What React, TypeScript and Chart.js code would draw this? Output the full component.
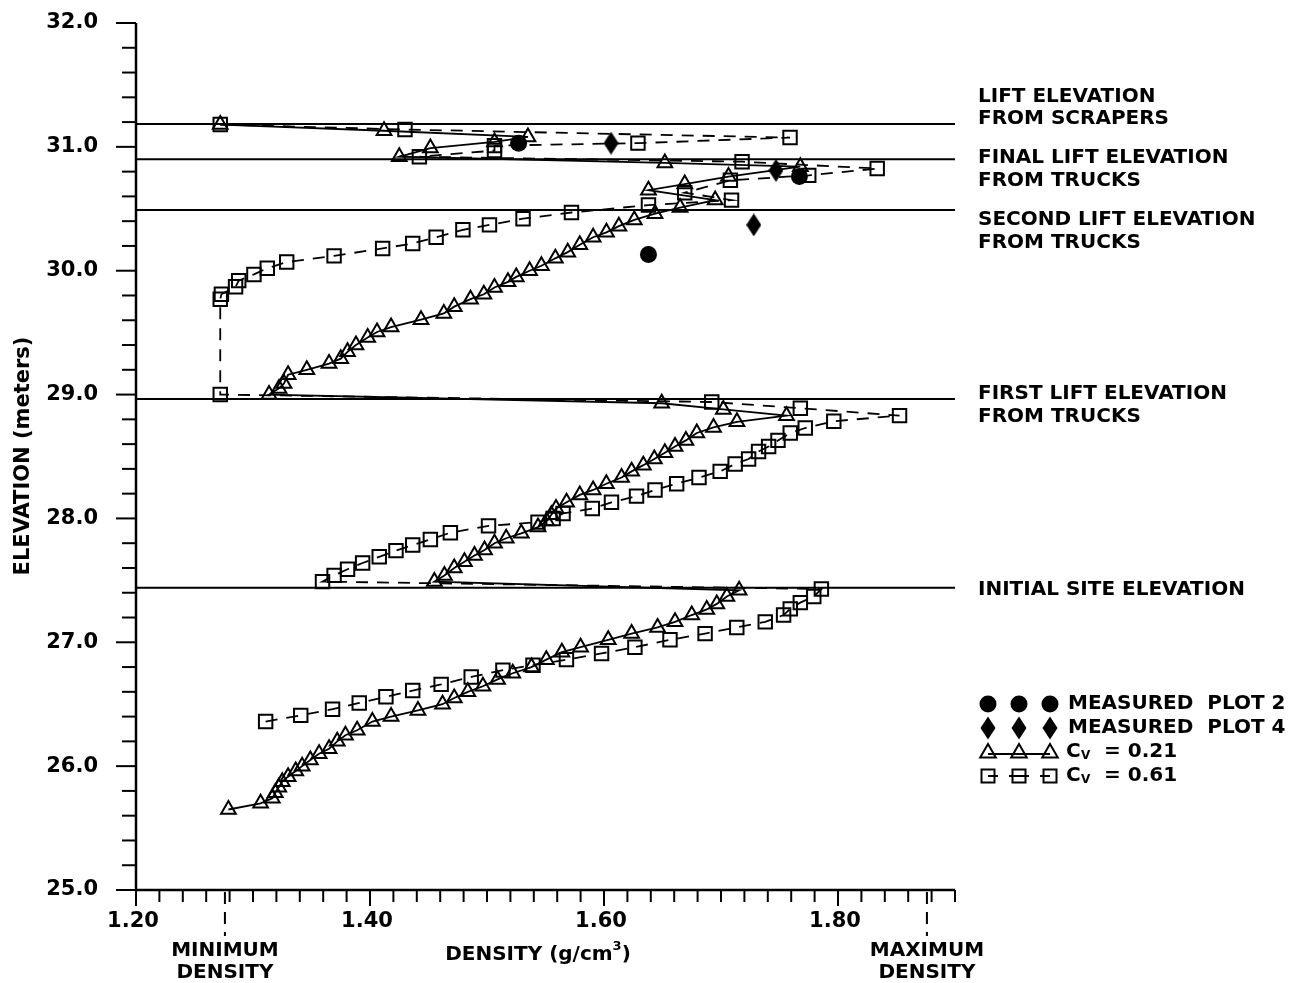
import React, { useEffect, useRef } from "react";
import { Chart, registerables } from "chart.js";

Chart.register(...registerables);

const FONT = '"DejaVu Sans", "Liberation Sans", sans-serif';

// ---- axes ----
const X_MIN = 1.2;
const X_MAX = 1.9;
const Y_MIN = 25;
const Y_MAX = 32;
const xTickValues = [1.2, 1.4, 1.6, 1.8];
const xTickLabels = ["1.20", "1.40", "1.60", "1.80"];
const yTickValues = [25, 26, 27, 28, 29, 30, 31, 32];
const yTickLabels = ["25.0", "26.0", "27.0", "28.0", "29.0", "30.0", "31.0", "32.0"];
const densityMarkValues = [1.276, 1.876];
const densityMarkLabels = [["MINIMUM", "DENSITY"], ["MAXIMUM", "DENSITY"]];

// ---- lift elevations ----
const liftElevations = [31.185, 30.9, 30.49, 28.965, 27.44];
const liftLabels = [
  ["LIFT ELEVATION", "FROM SCRAPERS"],
  ["FINAL LIFT ELEVATION", "FROM TRUCKS"],
  ["SECOND LIFT ELEVATION", "FROM TRUCKS"],
  ["FIRST LIFT ELEVATION", "FROM TRUCKS"],
  ["INITIAL SITE ELEVATION"],
];

// ---- Cv = 0.21 (triangles, solid) ----
const cv021Density = [
  1.279, 1.3065, 1.3165, 1.319, 1.322, 1.325, 1.33, 1.3365, 1.342, 1.349, 1.3565, 1.365, 1.372, 1.379,
  1.389, 1.402, 1.418, 1.441, 1.462, 1.472, 1.4836, 1.4965, 1.509, 1.522, 1.538, 1.5507, 1.564, 1.58,
  1.6036, 1.6236, 1.6458, 1.6607, 1.675, 1.6878, 1.6964, 1.705, 1.7155,
  1.455, 1.4636, 1.472, 1.4807, 1.4893, 1.4979, 1.5064, 1.5164, 1.5293, 1.5436, 1.551, 1.555, 1.559,
  1.568, 1.5793, 1.5907, 1.602, 1.615, 1.6236, 1.6336, 1.643, 1.652, 1.6607, 1.67, 1.6793, 1.6936,
  1.7136, 1.756, 1.702, 1.6493,
  1.3137, 1.3222, 1.3265, 1.33, 1.346, 1.365, 1.375, 1.3808, 1.388, 1.398, 1.406, 1.418, 1.4436,
  1.4631, 1.472, 1.4859, 1.4973, 1.5064, 1.5179, 1.525, 1.5364, 1.5465, 1.5584, 1.569, 1.5793, 1.5907,
  1.6021, 1.6127, 1.6259, 1.6436, 1.665, 1.695, 1.638, 1.669, 1.7064, 1.7678, 1.652,
  1.425, 1.4516, 1.5064, 1.535, 1.412, 1.272,
];
const cv021Elevation = [
  25.65, 25.7, 25.74, 25.785, 25.83, 25.875, 25.915, 25.96, 26.0, 26.05, 26.1, 26.14, 26.2, 26.25,
  26.29, 26.36, 26.4, 26.45, 26.5, 26.55, 26.6, 26.645, 26.7, 26.75, 26.8, 26.86, 26.92, 26.96,
  27.02, 27.07, 27.12, 27.165, 27.22, 27.265, 27.31, 27.37, 27.42,
  27.49, 27.54, 27.6, 27.65, 27.7, 27.745, 27.8, 27.84, 27.88, 27.93, 27.98, 28.03, 28.08,
  28.13, 28.19, 28.23, 28.28, 28.33, 28.38, 28.43, 28.48, 28.53, 28.58, 28.63, 28.69, 28.735,
  28.78, 28.83, 28.88, 28.93,
  29.0, 29.05, 29.09, 29.16, 29.2, 29.25, 29.29, 29.345, 29.4, 29.46, 29.505, 29.545, 29.605,
  29.655, 29.71, 29.77, 29.81, 29.865, 29.91, 29.95, 30.0, 30.04, 30.1, 30.15, 30.21, 30.27,
  30.31, 30.36, 30.41, 30.46, 30.51, 30.57, 30.65, 30.7, 30.76, 30.84, 30.87,
  30.92, 30.99, 31.04, 31.08, 31.13, 31.18,
];

// ---- Cv = 0.61 (squares, dashed) ----
const cv061Density = [
  1.3108, 1.3408, 1.368, 1.3908, 1.4136, 1.4365, 1.4608, 1.4865, 1.5136, 1.5393, 1.5679, 1.5979,
  1.6264, 1.6564, 1.6864, 1.7135, 1.7378, 1.7535, 1.7592, 1.7678, 1.7793, 1.7858,
  1.3594, 1.3693, 1.3808, 1.3937, 1.4079, 1.4222, 1.4365, 1.4516, 1.4687, 1.5013, 1.5436, 1.5565,
  1.565, 1.59, 1.6064, 1.6278, 1.6436, 1.6621, 1.6812, 1.6993, 1.7121, 1.7236, 1.7321, 1.7407,
  1.7487, 1.7592, 1.772, 1.7964, 1.8526, 1.7678, 1.6921,
  1.272, 1.272, 1.273, 1.2851, 1.2878, 1.3008, 1.3122, 1.3288, 1.3693, 1.4108, 1.4365, 1.4565,
  1.4794, 1.5021, 1.5308, 1.5722, 1.638, 1.709, 1.669, 1.708, 1.775, 1.8335, 1.718,
  1.4422, 1.5064, 1.5064, 1.629, 1.759, 1.4299, 1.272,
];
const cv061Elevation = [
  26.36, 26.41, 26.46, 26.51, 26.56, 26.61, 26.66, 26.72, 26.775, 26.815, 26.86, 26.91,
  26.96, 27.02, 27.07, 27.12, 27.165, 27.22, 27.27, 27.32, 27.37, 27.43,
  27.49, 27.54, 27.59, 27.64, 27.69, 27.74, 27.785, 27.83, 27.885, 27.94, 27.97, 28.0,
  28.04, 28.08, 28.13, 28.18, 28.23, 28.28, 28.33, 28.38, 28.44, 28.48, 28.54, 28.58,
  28.63, 28.69, 28.73, 28.785, 28.83, 28.89, 28.94,
  29.0, 29.77, 29.81, 29.87, 29.92, 29.97, 30.02, 30.07, 30.12, 30.18, 30.22, 30.27,
  30.33, 30.37, 30.42, 30.47, 30.53, 30.57, 30.63, 30.73, 30.77, 30.825, 30.88,
  30.92, 30.97, 31.01, 31.03, 31.075, 31.14, 31.18,
];

// ---- measured ----
const plot2Density = [1.527, 1.767, 1.638];
const plot2Elevation = [31.03, 30.76, 30.13];
const plot4Density = [1.606, 1.747, 1.728];
const plot4Elevation = [31.03, 30.81, 30.37];

const legendLabels = ["MEASURED  PLOT 2", "MEASURED  PLOT 4", "= 0.21", "= 0.61"];

const pts = (xs: number[], ys: number[]) => xs.map((x, i) => ({ x, y: ys[i] }));

function makeDiamond(w: number, h: number) {
  const c = document.createElement("canvas");
  c.width = w;
  c.height = h;
  const g = c.getContext("2d")!;
  g.beginPath();
  g.moveTo(w / 2, 0);
  g.lineTo(w, h / 2);
  g.lineTo(w / 2, h);
  g.lineTo(0, h / 2);
  g.closePath();
  g.fillStyle = "#000";
  g.fill();
  return c;
}

function drawText(ctx: CanvasRenderingContext2D, s: string, x: number, y: number, align: CanvasTextAlign, size = 20) {
  ctx.font = `bold ${size}px ${FONT}`;
  ctx.textAlign = align;
  ctx.textBaseline = "middle";
  ctx.fillStyle = "#000";
  ctx.fillText(s, x, y);
}

const decorPlugin = {
  id: "decor",
  afterDraw(chart: any) {
    const ctx: CanvasRenderingContext2D = chart.ctx;
    const xs = chart.scales.x;
    const ys = chart.scales.y;
    const { left, right, top, bottom } = chart.chartArea;
    ctx.save();
    ctx.strokeStyle = "#000";
    ctx.lineCap = "butt";
    // axes
    ctx.lineWidth = 2.5;
    ctx.beginPath();
    ctx.moveTo(left, top);
    ctx.lineTo(left, bottom);
    ctx.lineTo(right, bottom);
    ctx.stroke();
    // y ticks
    ctx.lineWidth = 2;
    for (let i = 0; i <= 35; i++) {
      const v = Y_MIN + i * 0.2;
      const py = ys.getPixelForValue(v);
      const major = i % 5 === 0;
      ctx.beginPath();
      ctx.moveTo(left - (major ? 20 : 14), py);
      ctx.lineTo(left, py);
      ctx.stroke();
    }
    // x ticks
    for (let i = 0; i <= 35; i++) {
      const v = X_MIN + i * 0.02;
      const px = xs.getPixelForValue(v);
      const major = i % 10 === 0;
      ctx.beginPath();
      ctx.moveTo(px, bottom);
      ctx.lineTo(px, bottom + (major ? 16 : 12));
      ctx.stroke();
    }
    // density marks (dashed ticks)
    ctx.setLineDash([12, 8]);
    densityMarkValues.forEach((v) => {
      const px = xs.getPixelForValue(v);
      ctx.beginPath();
      ctx.moveTo(px, bottom + 2);
      ctx.lineTo(px, bottom + 46);
      ctx.stroke();
    });
    ctx.setLineDash([]);
    // tick labels
    xTickValues.forEach((v, i) => drawText(ctx, xTickLabels[i], xs.getPixelForValue(v) - 3, bottom + 32, "center", 21));
    yTickValues.forEach((v, i) => drawText(ctx, yTickLabels[i], left - 38, ys.getPixelForValue(v), "right", 21));
    densityMarkValues.forEach((v, i) => {
      const px = xs.getPixelForValue(v);
      drawText(ctx, densityMarkLabels[i][0], px, bottom + 61, "center");
      drawText(ctx, densityMarkLabels[i][1], px, bottom + 83, "center");
    });
    // x title: DENSITY (g/cm3)
    {
      ctx.font = `bold 20px ${FONT}`;
      const a = "DENSITY (g/cm";
      const b = "3";
      const c = ")";
      const wa = ctx.measureText(a).width;
      const wc = ctx.measureText(c).width;
      ctx.font = `bold 13px ${FONT}`;
      const wb = ctx.measureText(b).width;
      const total = wa + wb + wc;
      const x0 = 538 - total / 2;
      const y = bottom + 65;
      drawText(ctx, a, x0, y, "left");
      drawText(ctx, b, x0 + wa, y - 8, "left", 13);
      drawText(ctx, c, x0 + wa + wb, y, "left");
    }
    // y title
    ctx.save();
    ctx.translate(24, 456);
    ctx.rotate(-Math.PI / 2);
    drawText(ctx, "ELEVATION (meters)", 0, 0, "center", 21);
    ctx.restore();
    // lift labels
    const labelOffsets = [[-27, -5], [-1, 22], [10, 33], [-5, 18], [2]];
    liftElevations.forEach((e, i) => {
      const py = ys.getPixelForValue(e);
      liftLabels[i].forEach((s, j) => drawText(ctx, s, 978, py + labelOffsets[i][j], "left"));
    });
    // legend
    const rowY = [704, 728, 752, 776];
    const symX = [988, 1019, 1050];
    // circles
    symX.forEach((x) => {
      ctx.beginPath();
      ctx.arc(x, rowY[0], 8.5, 0, Math.PI * 2);
      ctx.fillStyle = "#000";
      ctx.fill();
    });
    // diamonds
    symX.forEach((x) => {
      ctx.beginPath();
      ctx.moveTo(x, rowY[1] - 11.5);
      ctx.lineTo(x + 7.5, rowY[1]);
      ctx.lineTo(x, rowY[1] + 11.5);
      ctx.lineTo(x - 7.5, rowY[1]);
      ctx.closePath();
      ctx.fill();
    });
    // triangles with solid line
    ctx.lineWidth = 1.8;
    ctx.beginPath();
    ctx.moveTo(symX[0], rowY[2] + 2);
    ctx.lineTo(symX[2], rowY[2] + 2);
    ctx.stroke();
    ctx.lineWidth = 2;
    symX.forEach((x) => {
      const r = 9;
      const cy = rowY[2] + 1;
      ctx.beginPath();
      ctx.moveTo(x, cy - r);
      ctx.lineTo(x + r * 0.866, cy + r / 2);
      ctx.lineTo(x - r * 0.866, cy + r / 2);
      ctx.closePath();
      ctx.stroke();
    });
    // squares with dashes
    ctx.lineWidth = 1.8;
    [[symX[0], symX[1]], [symX[1], symX[2]]].forEach(([a, b]) => {
      ctx.beginPath();
      ctx.moveTo(a, rowY[3]);
      ctx.lineTo(a + 10, rowY[3]);
      ctx.moveTo(b - 10, rowY[3]);
      ctx.lineTo(b, rowY[3]);
      ctx.stroke();
    });
    ctx.lineWidth = 2;
    symX.forEach((x) => {
      ctx.strokeRect(x - 6.5, rowY[3] - 6.5, 13, 13);
    });
    // legend texts
    drawText(ctx, legendLabels[0], 1068, rowY[0], "left");
    drawText(ctx, legendLabels[1], 1068, rowY[1], "left");
    [2, 3].forEach((k) => {
      const y = rowY[k];
      drawText(ctx, "C", 1066, y, "left");
      drawText(ctx, "V", 1081, y + 4, "left", 12);
      drawText(ctx, legendLabels[k], 1104, y, "left");
    });
    ctx.restore();
  },
};

export default function App() {
  const ref = useRef<HTMLCanvasElement>(null);
  useEffect(() => {
    if (!ref.current) return;
    const diamond = makeDiamond(15, 23);
    const liftSets = liftElevations.map((e) => ({
      data: [
        { x: X_MIN, y: e },
        { x: X_MAX, y: e },
      ],
      showLine: true,
      borderColor: "#000",
      borderWidth: 2,
      pointRadius: 0,
    }));
    const chart = new Chart(ref.current, {
      type: "scatter",
      data: {
        datasets: [
          {
            label: "MEASURED PLOT 2",
            data: pts(plot2Density, plot2Elevation),
            showLine: false,
            pointStyle: "circle",
            pointRadius: 8.5,
            pointBackgroundColor: "#000",
            pointBorderColor: "#000",
            pointBorderWidth: 0,
          },
          {
            label: "MEASURED PLOT 4",
            data: pts(plot4Density, plot4Elevation),
            showLine: false,
            pointStyle: diamond as any,
            pointRadius: 11,
          },
          {
            label: "Cv = 0.21",
            data: pts(cv021Density, cv021Elevation),
            showLine: true,
            borderColor: "#000",
            borderWidth: 1.8,
            pointStyle: "triangle",
            pointRadius: 8.5,
            pointBorderWidth: 2,
            pointBorderColor: "#000",
            pointBackgroundColor: "rgba(0,0,0,0)",
            tension: 0,
          },
          {
            label: "Cv = 0.61",
            data: pts(cv061Density, cv061Elevation),
            showLine: true,
            borderColor: "#000",
            borderWidth: 1.8,
            borderDash: [12, 9],
            pointStyle: "rect",
            pointRadius: 9.5,
            pointBorderWidth: 2,
            pointBorderColor: "#000",
            pointBackgroundColor: "rgba(0,0,0,0)",
            tension: 0,
          },
          ...liftSets,
        ] as any,
      },
      options: {
        responsive: false,
        devicePixelRatio: 1,
        animation: false,
        layout: { padding: { left: 136, right: 348, top: 23, bottom: 93 } },
        scales: {
          x: { type: "linear", min: X_MIN, max: X_MAX, display: false },
          y: { type: "linear", min: Y_MIN, max: Y_MAX, display: false },
        },
        plugins: { legend: { display: false }, tooltip: { enabled: false } },
      },
      plugins: [decorPlugin],
    });
    return () => chart.destroy();
  }, []);
  return (
    <div style={{ position: "fixed", left: 0, top: 0, width: 1303, height: 983, background: "#fff" }}>
      <canvas ref={ref} width={1303} height={983} style={{ display: "block" }} />
    </div>
  );
}
